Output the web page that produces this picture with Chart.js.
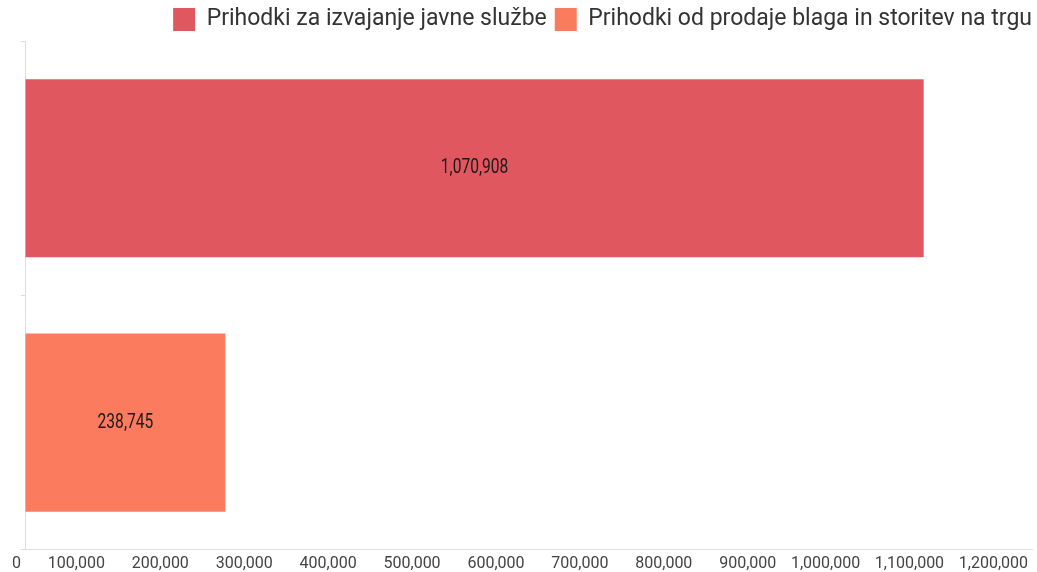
<!DOCTYPE html>
<html>
<head>
<meta charset="utf-8">
<script src="https://cdn.jsdelivr.net/npm/chart.js@4/dist/chart.umd.min.js"></script>
<style>
  html, body { margin: 0; padding: 0; background: #fff; }
  #wrap { width: 1037px; height: 572px; }
</style>
</head>
<body>
<div id="wrap"><canvas id="c"></canvas></div>
<script>
const categories = ['Prihodki za izvajanje javne službe', 'Prihodki od prodaje blaga in storitev na trgu'];
const publicServiceValues = [1070908, null];
const marketValues = [null, 238745];
const xTickMax = 1200000;
const xTickStep = 100000;

const fmt = (v) => Number(v).toLocaleString('en-US');

// value printed in the middle of each bar, narrow like the original
const barLabels = {
  id: 'barLabels',
  afterDatasetsDraw(chart) {
    const { ctx } = chart;
    chart.data.datasets.forEach((ds, di) => {
      chart.getDatasetMeta(di).data.forEach((bar, i) => {
        const v = ds.data[i];
        if (v == null) return;
        ctx.save();
        ctx.translate((bar.x + bar.base) / 2, bar.y);
        ctx.scale(0.78, 1);
        ctx.font = '20px Roboto, sans-serif';
        ctx.fillStyle = '#1a1a1a';
        ctx.textAlign = 'center';
        ctx.textBaseline = 'middle';
        ctx.fillText(fmt(v), 0, 0);
        ctx.restore();
      });
    });
  },
};

new Chart(document.getElementById('c'), {
  type: 'bar',
  data: {
    labels: categories,
    datasets: [
      {
        label: 'Prihodki za izvajanje javne službe',
        data: publicServiceValues,
        backgroundColor: '#e05760',
        borderWidth: 0,
      },
      {
        label: 'Prihodki od prodaje blaga in storitev na trgu',
        data: marketValues,
        backgroundColor: '#fb7b5e',
        borderWidth: 0,
      },
    ],
  },
  options: {
    indexAxis: 'y',
    responsive: true,
    maintainAspectRatio: false,
    animation: false,
    layout: { padding: { left: 21, right: -3, top: 0, bottom: -7 } },
    datasets: { bar: { categoryPercentage: 0.7, barPercentage: 1, skipNull: true } },
    plugins: {
      legend: {
        align: 'end',
        labels: {
          color: '#333',
          boxWidth: 22,
          boxHeight: 23,
          padding: 8,
          font: { family: 'Roboto', size: 23 },
        },
      },
      tooltip: { enabled: false },
    },
    scales: {
      x: {
        min: 0,
        max: xTickMax,
        ticks: {
          stepSize: xTickStep,
          align: 'end',
          maxRotation: 0,
          autoSkip: false,
          color: '#444',
          font: { family: 'Roboto', size: 16 },
          padding: 5,
          callback: (v) => fmt(v) + ' ',
        },
        grid: { drawOnChartArea: false, drawTicks: false, color: '#ddd' },
        border: { color: '#ddd' },
      },
      y: {
        ticks: { display: false },
        grid: { drawOnChartArea: false, offset: true, tickLength: 4, color: '#ddd' },
        border: { color: '#ddd' },
      },
    },
  },
  plugins: [barLabels],
});
</script>
</body>
</html>
